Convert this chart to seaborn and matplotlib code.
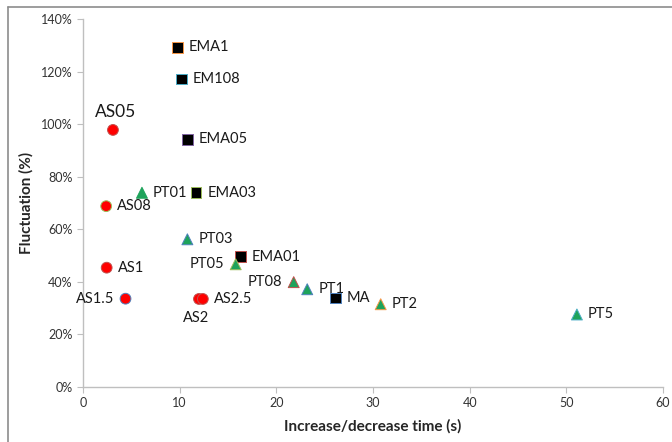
import pandas as pd
import matplotlib
matplotlib.use("Agg")
import matplotlib.pyplot as plt
import matplotlib.lines as mlines
from matplotlib.ticker import PercentFormatter
import seaborn as sns

# Data
names = ["EMA1", "EM108", "EMA05", "EMA03", "EMA01", "MA",
         "AS05", "AS08", "AS1", "AS1.5", "AS2", "AS2.5",
         "PT01", "PT03", "PT05", "PT08", "PT1", "PT2", "PT5"]
times = [9.8, 10.2, 10.8, 11.7, 16.3, 26.1,
         3.1, 2.4, 2.45, 4.4, 12.0, 12.4,
         6.1, 10.8, 15.8, 21.8, 23.2, 30.8, 51.1]
fluct = [129.2, 117.2, 94.2, 73.9, 49.6, 33.9,
         97.8, 68.8, 45.4, 33.6, 33.5, 33.5,
         73.9, 56.2, 46.7, 39.9, 37.2, 31.5, 27.6]
groups = ["EMA"] * 6 + ["AS"] * 6 + ["PT"] * 7
edges = ["#F79646", "#4BACC6", "#8064A2", "#9BBB59", "#C0504D", "#4F81BD",
         "#C0504D", "#9BBB59", "#C0504D", "#4F81BD", "#C0504D", "#C0504D",
         "#1EA35B", "#4F81BD", "#9BBB59", "#C0504D", "#4F81BD", "#F79646", "#4BACC6"]

df = pd.DataFrame({"name": names, "time": times, "fluct": fluct,
                   "group": groups, "edge": edges})

sns.set_style("white")
plt.rcParams["font.family"] = ["Lato", "DejaVu Sans"]

fig = plt.figure(figsize=(6.72, 4.42), dpi=100)
ax = fig.add_axes([0.1235, 0.1244, 0.863, 0.8326])

fills = {"EMA": "black", "AS": "#FF0000", "PT": "#1EA35B"}
marks = {"EMA": "s", "AS": "o", "PT": "^"}
sizes = {"EMA": 58, "AS": 60, "PT": 62}
for g in ["EMA", "AS", "PT"]:
    sub = df[df["group"] == g]
    sns.scatterplot(data=sub, x="time", y="fluct", ax=ax, color=fills[g],
                    marker=marks[g], s=sizes[g], edgecolor=list(sub["edge"]),
                    linewidth=0.7, zorder=3, legend=False)

# label placement (offsets in points)
offsets = {"AS05": (2, 13), "AS1.5": (-8, 0), "AS2": (-2, -14),
           "PT05": (-8, 0), "PT08": (-8, 0)}
for _, r in df.iterrows():
    dx, dy = offsets.get(r["name"], (8, 0))
    ha = "left"
    if dx < 0 and r["name"] not in ("AS05", "AS2"):
        ha = "right"
    if r["name"] in ("AS05", "AS2"):
        ha = "center"
    fs = 12.5 if r["name"] == "AS05" else 10.5
    ax.annotate(r["name"], (r["time"], r["fluct"]), xytext=(dx, dy),
                textcoords="offset points", ha=ha, va="center",
                fontsize=fs, color="#1a1a1a")

ax.set_xlim(0, 60)
ax.set_ylim(0, 140)
ax.set_xticks(range(0, 61, 10))
ax.set_yticks(range(0, 141, 20))
ax.yaxis.set_major_formatter(PercentFormatter(decimals=0))
ax.tick_params(axis="both", labelsize=9, colors="#333333", length=4,
               direction="out", color="#BFBFBF", bottom=True, left=True)
ax.tick_params(axis="both", labelcolor="#333333")
for s in ["top", "right"]:
    ax.spines[s].set_visible(False)
for s in ["left", "bottom"]:
    ax.spines[s].set_color("#BFBFBF")
    ax.spines[s].set_linewidth(1.0)

ax.set_xlabel("Increase/decrease time (s)", fontsize=11, fontweight="bold",
              labelpad=7)
ax.set_ylabel("Fluctuation (%)", fontsize=11, fontweight="bold", labelpad=5)

# outer frame lines (left and top only, as in the reference)
fig.add_artist(mlines.Line2D([8 / 672, 8 / 672], [0, 1 - 7 / 442],
                             color="#8C8C8C", lw=1.2))
fig.add_artist(mlines.Line2D([8 / 672, 1], [1 - 7 / 442, 1 - 7 / 442],
                             color="#8C8C8C", lw=1.2))

fig.savefig("out.png", dpi=100)
